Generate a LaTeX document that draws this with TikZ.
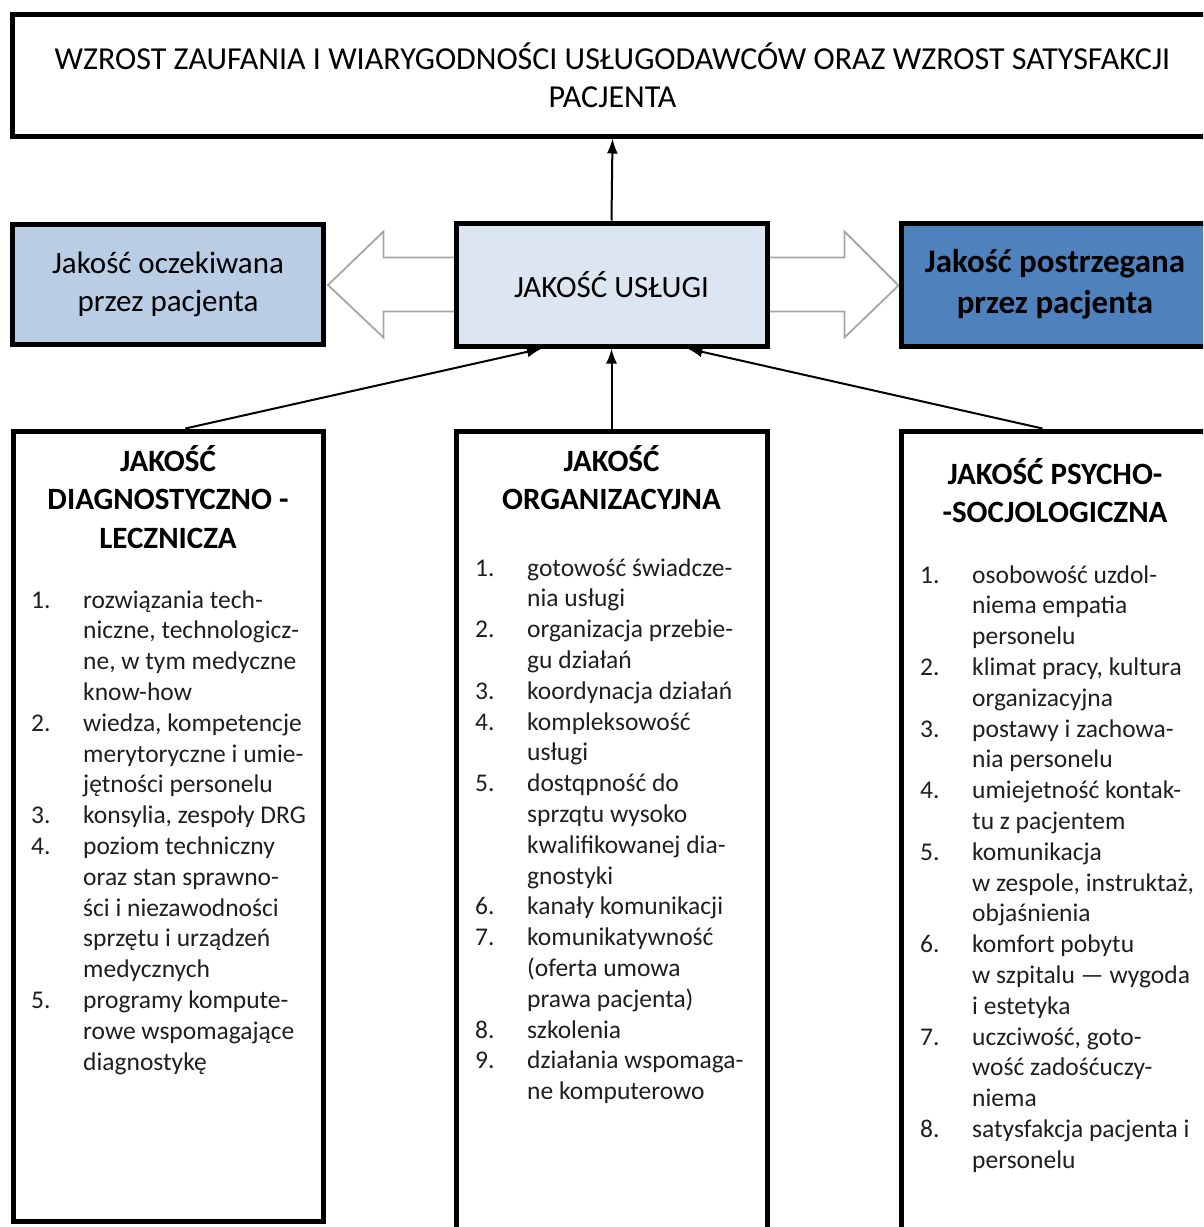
\documentclass[tikz,border=0pt]{standalone}
\usepackage{fontspec}
\setmainfont{Carlito}
\usetikzlibrary{arrows.meta,calc,backgrounds}
\definecolor{lblue}{HTML}{B9CDE5}
\definecolor{mblue}{HTML}{DCE6F2}
\definecolor{dblue}{HTML}{4F81BD}
\definecolor{hgray}{HTML}{A6A6A6}
\begin{document}
\begin{tikzpicture}[x=1pt,y=-1pt,
  box/.style={draw=black, line width=5pt, rectangle, inner sep=0pt},
  conn/.style={draw=black, line width=2pt, -{Latex[length=15pt,width=11pt]}},
  hollow/.style={draw=hgray, line width=1.8pt, fill=white, line join=miter},
  listtxt/.style={inner sep=0pt, anchor=base west, font=\fontsize{25.5}{30.8}\selectfont, text=black!88},
  headtxt/.style={inner sep=0pt, anchor=base, font=\fontsize{31}{38.5}\selectfont\bfseries},
]
\useasboundingbox (0,0) rectangle (1203,1227);
\clip (0,0) rectangle (1203,1227);
\begin{scope}[on background layer]
\fill[white] (0,0) rectangle (1203,1227);
\end{scope}

% top box
\node[box, minimum width=1201pt, minimum height=122pt, align=center,
      font=\fontsize{32}{38}\selectfont] (top) at (612.5,75)
  {WZROST ZAUFANIA I WIARYGODNOŚCI USŁUGODAWCÓW ORAZ WZROST SATYSFAKCJI\\PACJENTA};

% middle row
\node[box, fill=lblue, minimum width=311pt, minimum height=120pt, align=center,
      font=\fontsize{31}{38}\selectfont] (left) at (168,284)
  {Jakość oczekiwana\\przez pacjenta};
\node[box, fill=mblue, minimum width=311pt, minimum height=123pt,
      font=\fontsize{31}{38}\selectfont] (mid) at (611.5,284.5)
  {JAKOŚĆ USŁUGI};
\node[box, fill=dblue, minimum width=308pt, minimum height=123pt, align=center,
      font=\fontsize{33}{41}\selectfont\bfseries] (right) at (1055,284.5)
  {\raisebox{-3pt}{\begin{tabular}{@{}c@{}}Jakość postrzegana\\przez pacjenta\end{tabular}}};

% bottom boxes
\node[box, minimum width=310pt, minimum height=790pt] (bl) at (168,826) {};
\node[box, minimum width=311pt, minimum height=820pt] (bc) at (611.5,841) {};
\node[box, minimum width=308pt, minimum height=820pt] (br) at (1055,841) {};

% hollow arrows
\begin{scope}[on background layer]
\draw[hollow] ($(mid.west)+(3,-27)$) -- ($(mid.west)+(-70,-27)$) -- ($(mid.west)+(-70,-53)$)
  -- ($(left.east)+(2,1)$) -- ($(mid.west)+(-70,53)$) -- ($(mid.west)+(-70,27)$) -- ($(mid.west)+(3,27)$);
\draw[hollow] ($(mid.east)+(-3,-27)$) -- ($(mid.east)+(75,-27)$) -- ($(mid.east)+(75,-53)$)
  -- ($(right.west)+(0,1)$) -- ($(mid.east)+(75,53)$) -- ($(mid.east)+(75,27)$) -- ($(mid.east)+(-3,27)$);
\end{scope}

% connectors
\draw[conn] (mid.north) -- (top.south);
\draw[conn] ($(bl.north west)!0.555!(bl.north east)$) -- ($(mid.south west)!0.28!(mid.south east)$);
\draw[conn] (bc.north) -- (mid.south);
\draw[conn] ($(br.north west)!0.46!(br.north east)$) -- ($(mid.south west)!0.74!(mid.south east)$);

% headers
\node[headtxt] (hl) at (168,471) {\begin{tabular}[t]{@{}c@{}}JAKOŚĆ\\DIAGNOSTYCZNO -\\LECZNICZA\end{tabular}};
\node[headtxt] (hc) at (611.5,471) {\begin{tabular}[t]{@{}c@{}}JAKOŚĆ\\ORGANIZACYJNA\end{tabular}};
\node[headtxt] (hr) at (1055,484) {\begin{tabular}[t]{@{}c@{}}JAKOŚĆ PSYCHO-\\-SOCJOLOGICZNA\end{tabular}};

% lists
\node[listtxt] (ll) at (31,608) {\begin{tabular}[t]{@{}p{52pt}@{}l@{}}
1. & rozwiązania tech-\\
   & niczne, technologicz-\\
   & ne, w tym medyczne\\
   & know-how\\
2. & wiedza, kompetencje\\
   & merytoryczne i umie-\\
   & jętności personelu\\
3. & konsylia, zespoły DRG\\
4. & poziom techniczny\\
   & oraz stan sprawno-\\
   & ści i niezawodności\\
   & sprzętu i urządzeń\\
   & medycznych\\
5. & programy kompute-\\
   & rowe wspomagające\\
   & diagnostykę
\end{tabular}};

\node[listtxt] (lc) at (475,576) {\begin{tabular}[t]{@{}p{52pt}@{}l@{}}
1. & gotowość świadcze-\\
   & nia usługi\\
2. & organizacja przebie-\\
   & gu działań\\
3. & koordynacja działań\\
4. & kompleksowość\\
   & usługi\\
5. & dostqpność do\\
   & sprzqtu wysoko\\
   & kwalifikowanej dia-\\
   & gnostyki\\
6. & kanały komunikacji\\
7. & komunikatywność\\
   & (oferta umowa\\
   & prawa pacjenta)\\
8. & szkolenia\\
9. & działania wspomaga-\\
   & ne komputerowo
\end{tabular}};

\node[listtxt] (lr) at (920,583) {\begin{tabular}[t]{@{}p{52pt}@{}l@{}}
1. & osobowość uzdol-\\
   & niema empatia\\
   & personelu\\
2. & klimat pracy, kultura\\
   & organizacyjna\\
3. & postawy i zachowa-\\
   & nia personelu\\
4. & umiejetność kontak-\\
   & tu z pacjentem\\
5. & komunikacja\\
   & w zespole, instruktaż,\\
   & objaśnienia\\
6. & komfort pobytu\\
   & w szpitalu — wygoda\\
   & i estetyka\\
7. & uczciwość, goto-\\
   & wość zadośćuczy-\\
   & niema\\
8. & satysfakcja pacjenta i\\
   & personelu
\end{tabular}};
\end{tikzpicture}
\end{document}
